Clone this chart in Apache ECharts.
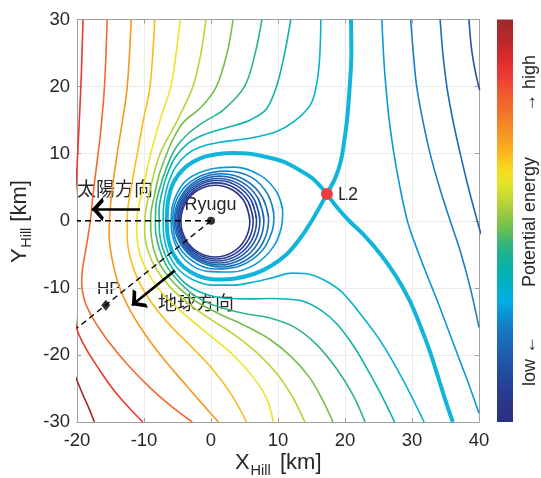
<!DOCTYPE html>
<html><head><meta charset="utf-8">
<script src="https://cdn.jsdelivr.net/npm/echarts@6/dist/echarts.min.js"></script>
<style>html,body{margin:0;padding:0;background:#fff}#c{width:541px;height:478px}</style>
</head><body><div id="c"></div>
<script>
// ---- axis ticks ----
const xTickValues = [-20, -10, 0, 10, 20, 30, 40];
const yTickValues = [-30, -20, -10, 0, 10, 20, 30];

// ---- inner closed contours around Ryugu (innermost first) ----
const ring1 = [[5.8,-0.05],[5.11,2.63],[3.23,4.58],[0.65,5.3],[-1.93,4.58],[-3.81,2.63],[-4.5,-0.05],[-3.81,-2.73],[-1.93,-4.68],[0.65,-5.4],[3.23,-4.68],[5.11,-2.73]];
const ring2 = [[6.3,-0.03],[5.56,2.81],[3.55,4.89],[0.8,5.65],[-1.95,4.89],[-3.96,2.81],[-4.7,-0.03],[-3.96,-2.86],[-1.95,-4.94],[0.8,-5.7],[3.55,-4.94],[5.56,-2.86]];
const ring3 = [[6.8,0],[6.02,3.0],[3.88,5.2],[0.95,6.0],[-1.98,5.2],[-4.12,3.0],[-4.9,0],[-4.12,-3.0],[-1.98,-5.2],[0.95,-6.0],[3.88,-5.2],[6.02,-3.0]];
const ring4 = [[7.3,0],[6.47,3.15],[4.2,5.46],[1.1,6.3],[-2.0,5.46],[-4.27,3.15],[-5.1,0],[-4.27,-3.15],[-2.0,-5.46],[1.1,-6.3],[4.2,-5.46],[6.47,-3.15]];
const ring5 = [[7.9,0.03],[7.02,3.34],[4.6,5.76],[1.3,6.65],[-2.0,5.76],[-4.42,3.34],[-5.3,0.03],[-4.42,-3.29],[-2.0,-5.71],[1.3,-6.6],[4.6,-5.71],[7.02,-3.29]];
const ring6 = [[8.6,0.3],[7.66,3.53],[5.08,6.07],[1.55,7.0],[-1.98,6.07],[-4.56,3.53],[-5.5,0.05],[-4.56,-3.43],[-1.98,-5.97],[1.55,-6.9],[5.08,-5.97],[7.66,-3.43]];
const ring7 = [[9.4,0.8],[8.5,3.9],[6.0,6.5],[2.3,7.4],[-1.5,6.7],[-4.5,4.3],[-5.7,0.5],[-5.2,-3.1],[-2.9,-5.9],[0.6,-7.2],[4.4,-6.7],[7.6,-4.5],[9.1,-1.6]];
const ring8 = [[10.7,1.5],[9.8,4.3],[7.3,6.8],[3.5,8.0],[0.0,7.7],[-3.6,6.1],[-5.5,3.1],[-5.95,0],[-5.5,-3.1],[-3.7,-6.0],[-0.5,-7.55],[3.0,-7.65],[6.6,-6.5],[9.3,-3.9],[10.5,-1.0]];

// ---- separatrix through L2 ----
const sepLoop = [[17.3,4.0],[15.3,6.2],[13.3,7.5],[10.8,8.8],[8.3,9.5],[5.8,10.0],[3.3,10.1],[0.8,9.9],[-1.6,9.3],[-3.9,7.9],[-5.6,5.7],[-6.4,3.0],[-6.6,0],[-6.4,-2.6],[-5.6,-5.0],[-4.1,-6.9],[-1.9,-8.2],[0.8,-8.75],[3.6,-8.6],[6.5,-7.9],[9.0,-6.7],[11.3,-5.0],[13.4,-2.5],[15.4,0.6],[17.3,4.0]];
const sepUpper = [[17.3,4.0],[18.6,6.5],[19.4,9],[19.9,12],[20.3,15],[20.7,20],[20.95,25],[20.9,30]];
const sepLower = [[17.3,4.0],[18.8,2.0],[20.6,0],[22.7,-2],[25.3,-5],[27.7,-8.4],[29.6,-11.8],[31.1,-15.3],[32.5,-19],[33.8,-23],[35.0,-26.8],[36.1,-30]];

// ---- open contours above the L2 level (wrapping around Ryugu on the sun side) ----
const lvlDR = [[-20.5,-22.5],[-20,-23.8],[-19.1,-26],[-18.2,-28],[-17.4,-30]];
const lvl1 = [[-19.1,30],[-19.35,22],[-19.65,15],[-19.9,10],[-20.1,6],[-20.4,2],[-20.7,-4],[-20.6,-10],[-20.3,-14],[-20,-16.2],[-18.7,-19],[-16.8,-22],[-14.7,-25],[-12.4,-27.7],[-10.2,-30]];
const lvl2 = [[-15.5,30],[-15.9,20],[-16.5,13],[-17.1,8],[-17.6,4],[-18.0,0],[-18.6,-3.8],[-19.15,-7],[-19.3,-9.2],[-18.9,-11.8],[-17.6,-14.6],[-15.3,-18],[-12.4,-21.5],[-9.2,-24.8],[-6.0,-27.6],[-2.8,-30]];
const lvl3 = [[-11.9,30],[-12.5,20],[-13.2,15],[-14.0,10],[-14.7,5],[-15.1,1],[-15.2,-2],[-14.8,-5.5],[-13.8,-9.5],[-12.1,-13.3],[-9.8,-17],[-7.0,-20.7],[-4.0,-24.2],[-1.3,-27.3],[1.1,-30]];
const lvl4 = [[-8.4,30],[-9.1,20],[-10.1,15],[-11.0,10],[-11.9,5],[-12.5,0.5],[-12.5,-2.5],[-12.0,-5.7],[-10.8,-9],[-8.8,-12.3],[-6.1,-15.6],[-2.9,-18.8],[0.3,-22.2],[3.1,-26],[5.3,-30]];
const lvl5 = [[-4.6,30],[-5.2,25],[-6.0,20],[-7.6,15],[-9.0,10],[-10.1,5],[-11.0,1],[-11.1,-1.5],[-10.6,-5],[-9.1,-8.3],[-6.8,-11.3],[-3.8,-14.1],[-0.4,-16.9],[3.2,-19.9],[6.2,-23.2],[8.3,-26.5],[9.3,-30]];
const lvl6 = [[-0.75,30],[-1.5,25],[-2.7,20],[-5.0,15],[-7.6,10],[-9.0,5],[-9.8,1],[-9.9,-1.5],[-9.4,-4.5],[-8.1,-7.3],[-6.1,-9.9],[-3.4,-12.3],[-0.2,-14.6],[3.5,-17],[7.0,-19.8],[10.0,-23],[12.3,-26.5],[14.0,-30]];
const lvl7 = [[3.3,30],[2.4,25],[0.8,20],[-1.4,17],[-4.1,14.7],[-5.6,12.3],[-6.6,10],[-7.7,7],[-8.4,4],[-9.0,0.5],[-8.9,-2.5],[-8.1,-5.6],[-6.6,-8],[-4.5,-10.3],[-1.8,-12.3],[1.5,-14],[5.0,-15.6],[8.8,-17.7],[12.0,-20.3],[14.8,-23.5],[16.8,-27],[18.2,-30]];
const lvl8 = [[7.6,30],[6.6,25],[5.0,20],[1.8,16.5],[-1.1,14.7],[-3.5,12.9],[-5.3,10.8],[-6.6,8],[-7.6,5],[-8.25,2],[-8.3,-1],[-7.7,-4.2],[-6.6,-6.8],[-4.7,-9.2],[-2.2,-11.3],[1.0,-12.8],[4.8,-13.8],[8.8,-14.5],[12.5,-15.9],[15.8,-18.5],[18.7,-22],[21.2,-26],[23.0,-30]];
const lvl9 = [[11.9,30],[11.0,25],[9.8,20.1],[8.3,16.7],[6.0,15.1],[3.5,14.2],[0.3,13.3],[-1.6,12.6],[-3.6,11.4],[-5.3,9.5],[-6.5,7],[-7.25,4.5],[-7.75,1.5],[-7.7,-1.5],[-6.95,-4.8],[-5.3,-7.8],[-3.2,-9.8],[-0.3,-11.1],[3.0,-11.6],[6.0,-11.65],[8.8,-11.6],[11.5,-11.7],[13.8,-12.0],[16.5,-13.4],[18.8,-15.4],[21.5,-19],[23.7,-22.8],[25.7,-26.5],[27.4,-30]];
const lvl10 = [[16.4,30],[16.2,24],[15.7,20],[14.8,17.2],[12.4,14.8],[9.8,13.3],[5.8,12.3],[1.3,11.7],[-1.6,11.0],[-3.6,9.9],[-5.3,8.0],[-6.4,5.5],[-7.0,2.8],[-7.15,0],[-7.0,-2.5],[-6.3,-5.0],[-4.9,-7.2],[-2.7,-8.8],[0.2,-9.6],[3.3,-9.6],[6.5,-9.1],[9.5,-8.4],[12.0,-7.8],[14.3,-7.9],[16.8,-8.8],[19.5,-10.6],[22.3,-13.9],[25.2,-17.8],[28.6,-23.6],[31.8,-30]];

// ---- open contours below the L2 level (anti-sun side) ----
const low1 = [[25.5,30],[25.8,24],[26.1,20],[26.6,15],[27.3,10],[28.2,5],[29.3,0],[30.3,-3],[32.0,-7.5],[33.8,-12],[35.5,-16.5],[37.2,-21],[38.7,-25],[40.0,-28.7]];
const low2 = [[29.8,30],[30.2,25],[30.7,20],[31.6,15],[32.7,10],[34.1,5],[35.7,0],[37.2,-4.5],[38.7,-10],[40.0,-15.9]];
const low3 = [[34.2,30],[34.6,25],[35.2,20],[36.1,15],[37.2,10],[38.4,5],[39.6,0.5],[40.3,-2]];
const low4 = [[38.5,30],[38.9,25.5],[39.5,22],[40.1,19.5]];

// ---- marked points and directions ----
const ryuguPoint = [0, 0];
const l2Point = [17.3, 4.0];
const hpPoint = [-15.7, -12.6];
const sunLine = [[0, 0], [-20, 0]];
const earthLine = [[0, 0], [-20, -16]];
const sunArrow = [[-10.6, 1.7], [-17.8, 1.7]];
const earthArrow = [[-5.4, -7.4], [-11.8, -12.6]];

// ---- styles (kept apart from the data) ----
const closedRings = [ring1, ring2, ring3, ring4, ring5, ring6, ring7, ring8];
const ringColors = ['#2b3489','#273d94','#23499e','#2055a7','#1d62b1','#1a72bd','#1485cb','#0a9ad8'];
const openLines = [
  [lvlDR,'#a32b2c'],[lvl1,'#e8382f'],[lvl2,'#f16a2b'],[lvl3,'#f7961f'],[lvl4,'#fbbb1b'],
  [lvl5,'#ece323'],[lvl6,'#b8d437'],[lvl7,'#74c04c'],[lvl8,'#2fb584'],[lvl9,'#0db3ad'],[lvl10,'#06b3cb'],
  [low1,'#0c97d7'],[low2,'#1780c5'],[low3,'#1c68b3'],[low4,'#2452a4']
];
const sepColor = '#12b5da';
const FONT = '"Liberation Sans", Arial, sans-serif';
const CJK = '"Noto Sans CJK JP", sans-serif';
const TXT = '#262626';

const series = [];
closedRings.forEach((r, i) => {
  series.push({type:'line', data: r.concat([r[0], r[1]]), smooth:0.35, showSymbol:false, symbol:'none',
    silent:true, lineStyle:{color:ringColors[i], width:1.6}, z:2});
});
openLines.forEach(([d, c]) => {
  series.push({type:'line', data:d, smooth:0.35, showSymbol:false, symbol:'none', silent:true,
    lineStyle:{color:c, width:1.6}, z:2});
});
[sepLoop, sepUpper, sepLower].forEach(d => {
  series.push({type:'line', data:d, smooth:0.35, showSymbol:false, symbol:'none', silent:true,
    lineStyle:{color:sepColor, width:4}, z:3});
});
[sunLine, earthLine].forEach(d => {
  series.push({type:'line', data:d, showSymbol:false, symbol:'none', silent:true,
    lineStyle:{color:'#000', width:1.4, type:[6,4]}, z:5});
});
const chevron = 'path://M5,-10 L5.01,-10 L5,-9.99 Z M5,0 L10,9 L8.3,10 L5,4.4 L1.7,10 L0,9 Z';
series.push({type:'lines', coordinateSystem:'cartesian2d', silent:true, z:6,
  data:[{coords:sunArrow},{coords:earthArrow}],
  symbol:['none', chevron], symbolSize:[11, 24],
  lineStyle:{color:'#000', width:2.6, opacity:1, curveness:0}});
series.push({type:'scatter', data:[ryuguPoint], symbol:'circle', symbolSize:8, itemStyle:{color:'#000'}, silent:true, z:7});
series.push({type:'scatter', data:[hpPoint], symbol:'diamond', symbolSize:[9,11], itemStyle:{color:'#000'}, silent:true, z:7});
series.push({type:'scatter', data:[l2Point], symbol:'circle', symbolSize:12, itemStyle:{color:'#ef3b40', opacity:1}, silent:true, z:8});

const cbStops = [
  [0.00,'#9c2a2b'],[0.05,'#b8282a'],[0.10,'#e02b2c'],[0.14,'#ec3a35'],[0.18,'#ef5730'],[0.22,'#f26c2c'],
  [0.26,'#f58726'],[0.30,'#f8a021'],[0.34,'#fbbd1b'],[0.37,'#f7d81f'],[0.40,'#e9e524'],[0.44,'#c8da34'],
  [0.48,'#9ccb40'],[0.52,'#6dbf51'],[0.55,'#3fb573'],[0.58,'#1db38f'],[0.62,'#04b2ad'],[0.66,'#00b1c8'],
  [0.70,'#03aee6'],[0.73,'#0a93d6'],[0.77,'#1679c2'],[0.82,'#1c62b1'],[0.87,'#214ea2'],[0.92,'#263e93'],[1.00,'#2b2f7f']
].map(([o,c]) => ({offset:o, color:c}));

function txt(x, y, text, size, family, align) {
  return {type:'text', x:x, y:y, silent:true, style:{text:text, fontSize:size, fontFamily:family||FONT, fill:TXT,
    textAlign:align||'left', verticalAlign:'middle'}};
}

const axisGray = '#a0a0a0';
const chart = echarts.init(document.getElementById('c'), null, {renderer:'canvas'});
chart.setOption({
  animation:false,
  backgroundColor:'#fff',
  textStyle:{fontFamily:FONT},
  grid:{left:77, top:19.5, width:402, height:402.5, containLabel:false},
  xAxis:[
    {type:'value', min:xTickValues[0], max:xTickValues[xTickValues.length-1], interval:xTickValues[1]-xTickValues[0], position:'bottom',
     axisLine:{show:true, onZero:false, lineStyle:{color:axisGray, width:1}},
     axisTick:{show:true, inside:true, length:4, lineStyle:{color:axisGray}},
     axisLabel:{color:TXT, fontSize:18.5, fontFamily:FONT, margin:9},
     splitLine:{show:true, lineStyle:{color:'#ebebeb', width:1}}},
    {type:'value', min:xTickValues[0], max:xTickValues[xTickValues.length-1], interval:xTickValues[1]-xTickValues[0], position:'top',
     axisLine:{show:true, onZero:false, lineStyle:{color:axisGray, width:1}},
     axisTick:{show:true, inside:true, length:4, lineStyle:{color:axisGray}},
     axisLabel:{show:false}, splitLine:{show:false}}
  ],
  yAxis:[
    {type:'value', min:yTickValues[0], max:yTickValues[yTickValues.length-1], interval:yTickValues[1]-yTickValues[0], position:'left',
     axisLine:{show:true, onZero:false, lineStyle:{color:axisGray, width:1}},
     axisTick:{show:true, inside:true, length:4, lineStyle:{color:axisGray}},
     axisLabel:{color:TXT, fontSize:18.5, fontFamily:FONT, margin:7},
     splitLine:{show:true, lineStyle:{color:'#ebebeb', width:1}}},
    {type:'value', min:yTickValues[0], max:yTickValues[yTickValues.length-1], interval:yTickValues[1]-yTickValues[0], position:'right',
     axisLine:{show:true, onZero:false, lineStyle:{color:axisGray, width:1}},
     axisTick:{show:true, inside:true, length:4, lineStyle:{color:axisGray}},
     axisLabel:{show:false}, splitLine:{show:false}}
  ],
  series: series,
  graphic:[
    {type:'rect', silent:true, shape:{x:497, y:19.5, width:16, height:402.5},
     style:{fill:new echarts.graphic.LinearGradient(0,0,0,1,cbStops)}},
    {type:'group', x:530.5, y:222, rotation:Math.PI/2, silent:true, children:[
      txt(-139, 0, 'low ←', 18, FONT, 'center'),
      txt(0, 0, 'Potential energy', 18, FONT, 'center'),
      txt(138.5, 0, '→ high', 18, FONT, 'center')
    ]},
    {type:'group', x:20, y:222, rotation:Math.PI/2, silent:true, children:[
      txt(-41, 0, 'Y', 22),
      txt(-25.8, 7.4, 'Hill', 14.5),
      txt(0.3, 0, '[km]', 22)
    ]},
    txt(235, 463.3, 'X', 22),
    txt(250.5, 470.7, 'Hill', 14.5),
    txt(280, 463.3, '[km]', 22),
    txt(77, 189, '太陽方向', 19, CJK),
    txt(158, 303, '地球方向', 19, CJK),
    txt(210.5, 205, 'Ryugu', 18, FONT, 'center'),
    txt(338, 195, 'L2', 18),
    txt(97, 289, 'HP', 17)
  ]
});
</script></body></html>
